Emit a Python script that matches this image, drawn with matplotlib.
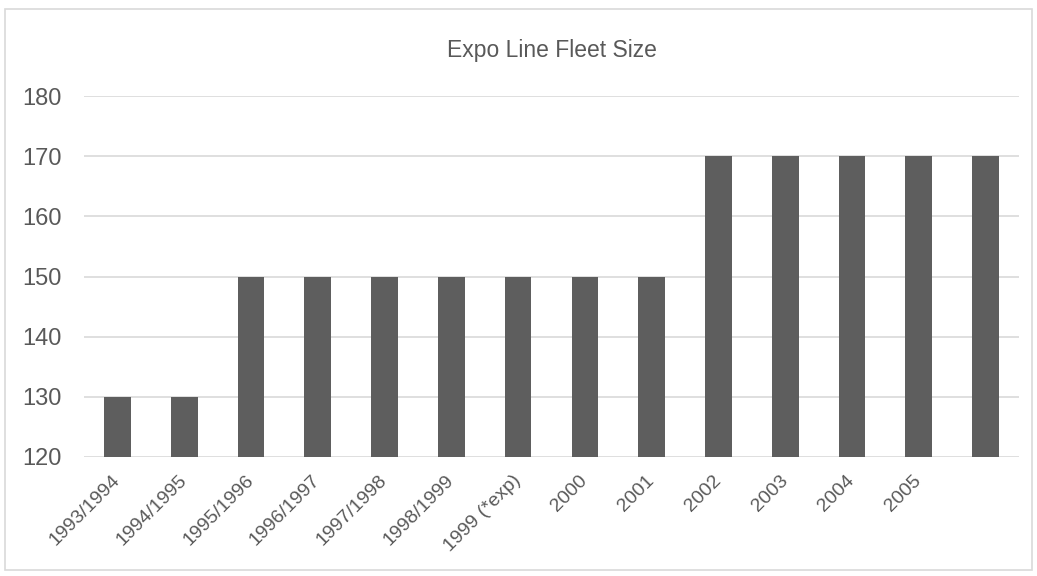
import matplotlib.pyplot as plt
from matplotlib.patches import Rectangle

anni = ['1993/1994', '1994/1995', '1995/1996', '1996/1997', '1997/1998',
        '1998/1999', '1999 (*exp)', '2000', '2001', '2002', '2003', '2004',
        '2005', '']
flotta = [130, 130, 150, 150, 150, 150, 150, 150, 150, 170, 170, 170, 170, 170]

plt.rcParams['font.family'] = ['Liberation Sans', 'DejaVu Sans']

fig = plt.figure(figsize=(10.37, 5.76), dpi=100)
ax = fig.add_axes([0.081, 0.2066, 0.9016, 0.6267])

x = range(len(flotta))
ax.bar(x, flotta, width=0.4, color='#5e5e5e', zorder=3)

ax.set_xlim(-0.5, len(flotta) - 0.5)
ax.set_ylim(120, 180)
ax.set_yticks(range(120, 181, 10))
ax.set_xticks(list(x))
ax.set_xticklabels(anni, rotation=45, ha='right', va='center', rotation_mode='anchor')

ax.grid(axis='y', color='#d9d9d9', linewidth=1.2, zorder=0)
for s in ax.spines.values():
    s.set_visible(False)
ax.tick_params(axis='both', length=0, colors='#595959')
ax.tick_params(axis='y', pad=16, labelsize=17)
ax.tick_params(axis='x', pad=15, labelsize=14)

fig.text(0.532, 0.913, 'Expo Line Fleet Size', ha='center', va='center',
         fontsize=16.5, color='#595959')

# cornice grigia attorno al grafico
fig.patches.append(Rectangle((0.005, 0.01), 0.99, 0.975, transform=fig.transFigure,
                             fill=False, edgecolor='#d9d9d9', linewidth=1.2))

fig.savefig('out.png', dpi=100)
